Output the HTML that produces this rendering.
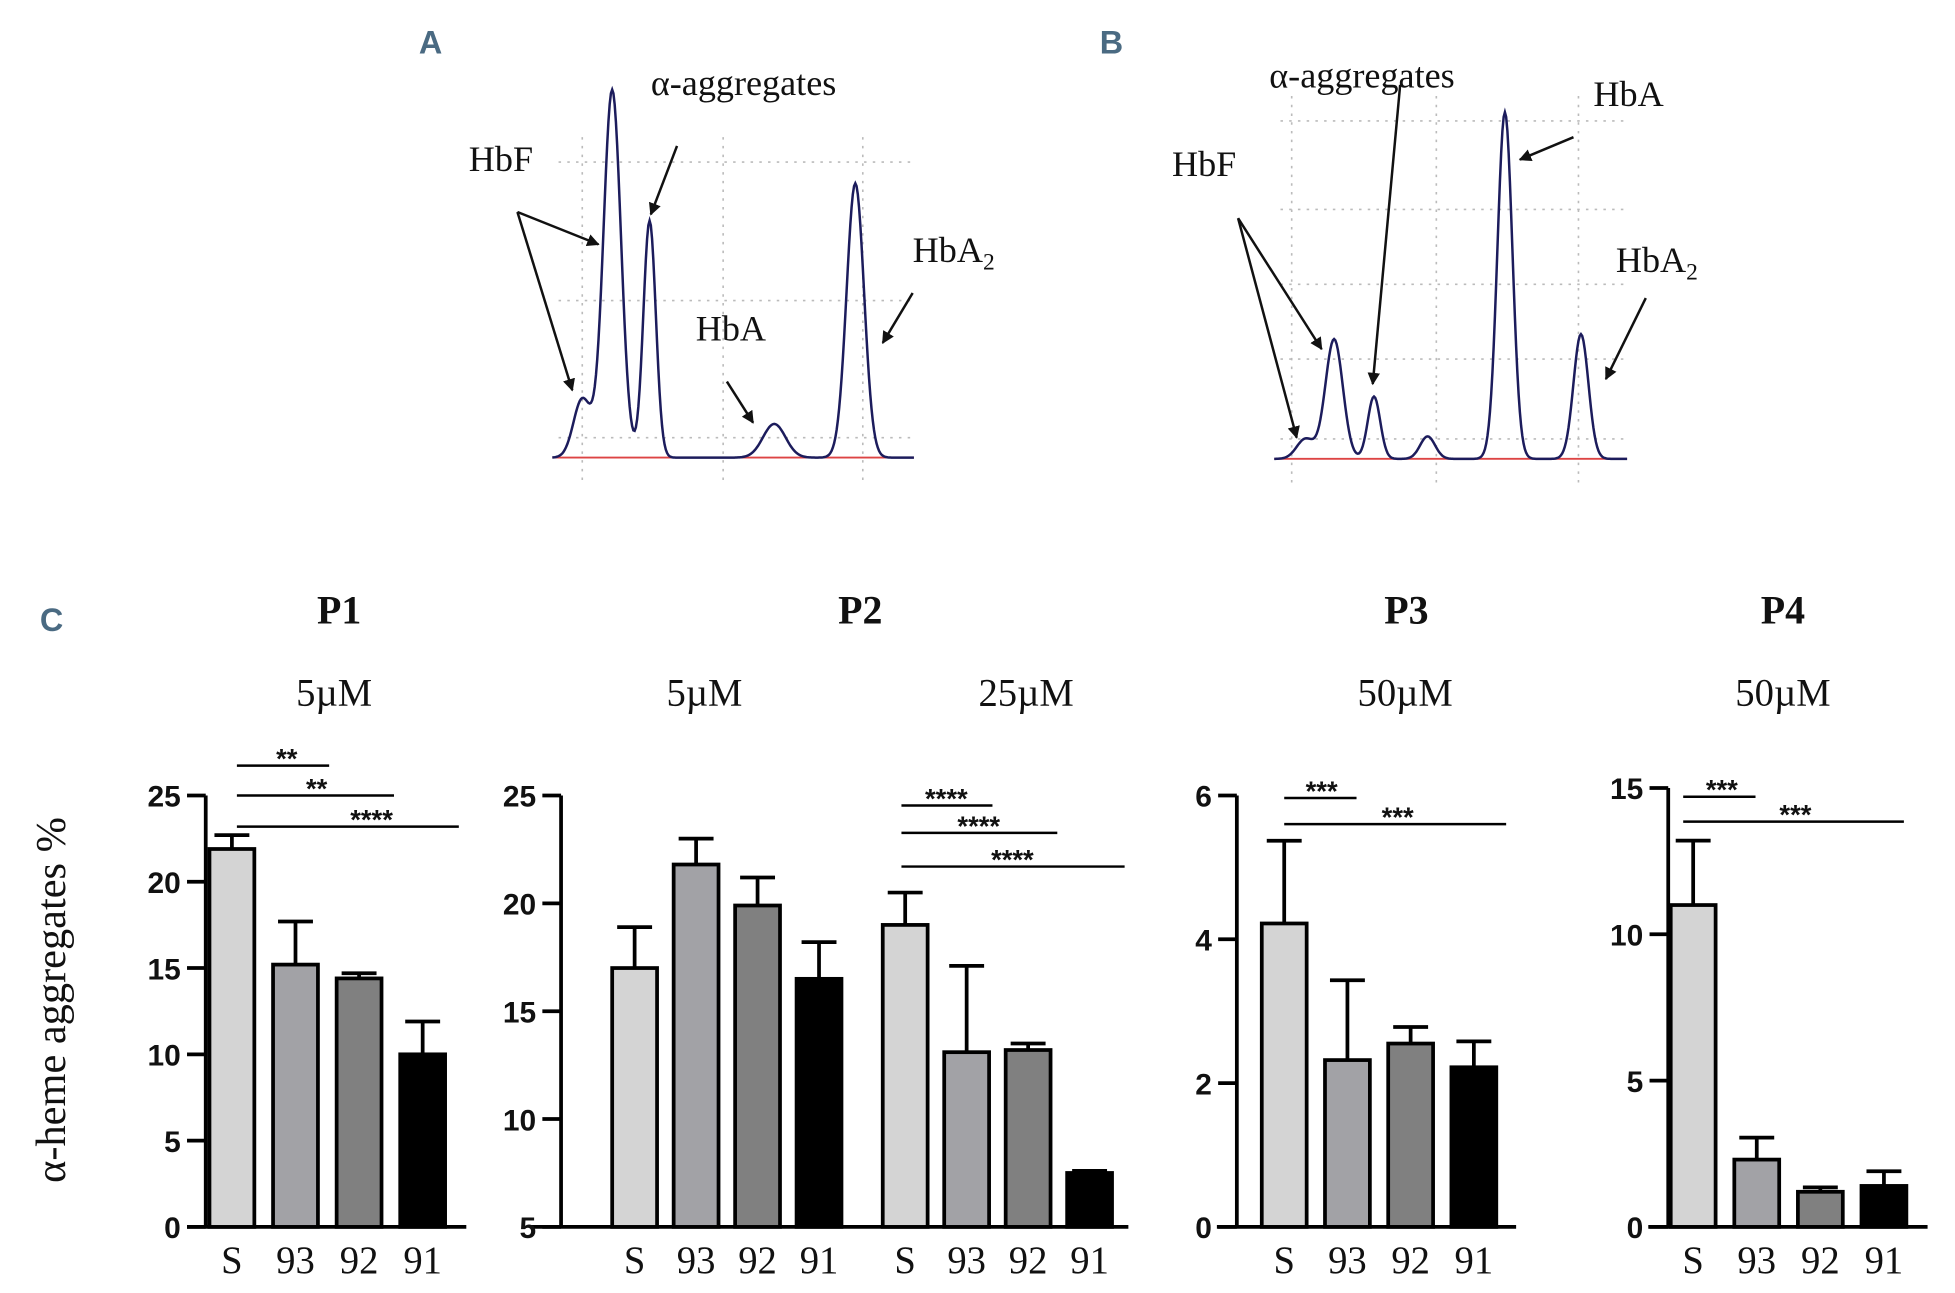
<!DOCTYPE html>
<html><head><meta charset="utf-8"><style>
html,body{margin:0;padding:0;background:#fff}
svg{display:block}
.tick{font-family:"Liberation Sans",sans-serif;font-weight:bold;font-size:24px;fill:#111}
.cat{font-family:"Liberation Serif",serif;font-size:31px;fill:#111}
.ser{font-family:"Liberation Serif",serif;fill:#111}
.let{font-family:"Liberation Sans",sans-serif;font-weight:bold;font-size:26px;fill:#4a6a82}
</style></head><body>
<svg id="fig" width="1955" height="1293" viewBox="0 0 1568 1037" xmlns="http://www.w3.org/2000/svg">
<defs><marker id="ar" markerWidth="10" markerHeight="10" refX="9" refY="5" orient="auto" markerUnits="userSpaceOnUse"><path d="M0,0 L10,5 L0,10 z" fill="#111"/></marker></defs>
<text class="let" x="336" y="43">A</text>
<text class="let" x="882" y="43">B</text>
<text class="let" x="32" y="506">C</text>
<g id="chromA"></g>
<g id="chromB"></g>
<g id="bars"></g>
<text class="ser" font-size="34" transform="translate(52,802) rotate(-90)" text-anchor="middle">α-heme aggregates %</text>
</svg>
<script>
// Chromatogram peaks (position x, peak height y, width)
const peaksAx=[467,491,521,621,686];
const peaksAy=[320,72,177,340,147];
const peaksAw=[7,7,5,9,7];
const peaksBx=[1047,1070,1102,1145,1207,1268];
const peaksBy=[352,272,318,350,90,268];
const peaksBw=[7,7,5,6,6,6];

// Bar chart data
const cats=["S","93","92","91"];
const p1Vals=[21.9,15.2,14.4,10.0];
const p1Err=[22.7,17.7,14.7,11.9];
const p2aVals=[17.0,21.8,19.9,16.5];
const p2aErr=[18.9,23.0,21.2,18.2];
const p2bVals=[19.0,13.1,13.2,7.5];
const p2bErr=[20.5,17.1,13.5,7.6];
const p3Vals=[4.22,2.32,2.55,2.22];
const p3Err=[5.37,3.43,2.78,2.58];
const p4Vals=[11.0,2.3,1.2,1.4];
const p4Err=[13.2,3.05,1.35,1.9];
const p1Ticks=[0,5,10,15,20,25];
const p2Ticks=[5,10,15,20,25];
const p3Ticks=[0,2,4,6];
const p4Ticks=[0,5,10,15];
const fills=["#d4d4d4","#a2a2a6","#808080","#000"];

const NS="http://www.w3.org/2000/svg";
function mk(parent,tag,attrs,txt){const e=document.createElementNS(NS,tag);for(const k in attrs)e.setAttribute(k,attrs[k]);if(txt!==undefined)e.textContent=txt;parent.appendChild(e);return e;}

function chrom(g,x0,x1,base,px,py,pw,gridX,gridY){
  gridX.forEach(x=>{const l=mk(g,'line',{x1:x,y1:gridY[0]-20,x2:x,y2:base+20,stroke:'#bbb','stroke-dasharray':'2,5','stroke-width':1.3});});
  gridY.forEach(y=>{const l=mk(g,'line',{x1:x0+5,y1:y,x2:x1,y2:y,stroke:'#bbb','stroke-dasharray':'2,5','stroke-width':1.3});});
  const b=mk(g,'line',{x1:x0,y1:base,x2:x1,y2:base,stroke:'#d44','stroke-width':1.5});
  
  let d='';
  for(let x=x0;x<=x1;x+=1){let y=0;for(let i=0;i<px.length;i++){const t=(x-px[i])/pw[i];y+=(base-py[i])*Math.exp(-t*t/2);}d+=(x===x0?'M':'L')+x+','+(base-y).toFixed(1);}
  const p=mk(g,'path',{d:d,fill:'none',stroke:'#1c1c5c','stroke-width':2});
  
}
const gA=document.getElementById('chromA');
chrom(gA,443,733,367,peaksAx,peaksAy,peaksAw,[467,580,692],[130,241,351]);
const gB=document.getElementById('chromB');
chrom(gB,1022,1305,368,peaksBx,peaksBy,peaksBw,[1036,1152,1266],[97,168,228,288,352]);

function lbl(g,x,y,t,size,name,sub){const e=mk(g,'text',{x:x,y:y,class:'ser','font-size':size},t);if(sub){const s=mk(e,'tspan',{'font-size':size*0.65,dy:6},sub);}return e;}
function arrow(g,x1,y1,x2,y2){const l=mk(g,'line',{x1:x1,y1:y1,x2:x2,y2:y2,stroke:'#111','stroke-width':2,'marker-end':'url(#ar)'});}
lbl(gA,376,137,'HbF',29,'label-hbf');
lbl(gA,522,76,'α-aggregates',29,'label-alpha-aggregates');
lbl(gA,558,273,'HbA',29,'label-hba');
lbl(gA,732,210,'HbA',29,'label-hba2','2');
arrow(gA,415,170,480,196);arrow(gA,415,170,459,313);arrow(gA,543,117,522,172);arrow(gA,583,306,604,339);arrow(gA,732,235,708,275);
lbl(gB,940,141,'HbF',29,'label-hbf');
lbl(gB,1018,70,'α-aggregates',29,'label-alpha-aggregates');
lbl(gB,1278,85,'HbA',29,'label-hba');
lbl(gB,1296,218,'HbA',29,'label-hba2','2');
arrow(gB,993,175,1060,280);arrow(gB,993,175,1040,351);arrow(gB,1123,68,1101,308);arrow(gB,1262,110,1219,128);arrow(gB,1320,239,1288,304);

const G=document.getElementById('bars');
function panel(o){
  const g=mk(G,'g',{});
  const y=v=>o.y0-(v-o.vmin)/(o.vmax-o.vmin)*(o.y0-o.y1);
  const ax=mk(g,'line',{x1:o.ax,y1:o.y1,x2:o.ax,y2:o.y0+1,stroke:'#000','stroke-width':3});
  const xa=mk(g,'line',{x1:o.xa0,y1:o.y0,x2:o.xa1,y2:o.y0,stroke:'#000','stroke-width':3});
  o.ticks.forEach(t=>{const l=mk(g,'line',{x1:o.ax-15,y1:y(t),x2:o.ax,y2:y(t),stroke:'#000','stroke-width':3});
    const tx=mk(g,'text',{x:o.ax-20,y:y(t)+9,class:'tick','text-anchor':'end'},t);});
  o.groups.forEach(gr=>{gr.vals.forEach((v,i)=>{const cx=gr.x0+i*o.step;
    const e=mk(g,'line',{x1:cx,y1:y(v),x2:cx,y2:y(gr.err[i]),stroke:'#000','stroke-width':3});
    const c=mk(g,'line',{x1:cx-14,y1:y(gr.err[i]),x2:cx+14,y2:y(gr.err[i]),stroke:'#000','stroke-width':3});
    const r=mk(g,'rect',{x:cx-18,y:y(v),width:36,height:o.y0-y(v),fill:fills[i],stroke:'#000','stroke-width':3});
    const t=mk(g,'text',{x:cx,y:1021,class:'cat','text-anchor':'middle'},cats[i]);});});
  o.sig.forEach(s=>{const l=mk(g,'line',{x1:s[0],y1:s[2],x2:s[1],y2:s[2],stroke:'#000','stroke-width':2});
    const t=mk(g,'text',{x:s[4],y:s[2]+2,'font-family':'Liberation Sans,sans-serif','font-size':22,'font-weight':'bold','text-anchor':'middle',fill:'#111'},s[3]);});
  const ti=mk(g,'text',{x:o.tx,y:500,class:'ser','font-size':32,'font-weight':'bold','text-anchor':'middle'},o.title);
  o.conc.forEach(c=>{const t=mk(g,'text',{x:c[0],y:566,class:'ser','font-size':31,'text-anchor':'middle'},c[1]);});
}
panel({name:'panel-p1',ax:165,y0:984,y1:638,vmin:0,vmax:25,xa0:150,xa1:374,step:51,ticks:p1Ticks,groups:[{x0:186,vals:p1Vals,err:p1Err}],
  sig:[[190,264,614,'**',230],[190,316,638,'**',254],[190,368,663,'****',298]],tx:272,title:'P1',conc:[[268,'5µM']]});
panel({name:'panel-p2',ax:450,y0:984,y1:638,vmin:5,vmax:25,xa0:426,xa1:905,step:49.3,ticks:p2Ticks,groups:[{x0:509,vals:p2aVals,err:p2aErr},{x0:726,vals:p2bVals,err:p2bErr}],
  sig:[[723,796,646,'****',759],[723,848,668,'****',785],[723,902,695,'****',812]],tx:690,title:'P2',conc:[[565,'5µM'],[823,'25µM']]});
panel({name:'panel-p3',ax:992,y0:984,y1:638,vmin:0,vmax:6,xa0:976,xa1:1216,step:50.7,ticks:p3Ticks,groups:[{x0:1030,vals:p3Vals,err:p3Err}],
  sig:[[1030,1088,640,'***',1060],[1030,1208,661,'***',1121]],tx:1128,title:'P3',conc:[[1127,'50µM']]});
panel({name:'panel-p4',ax:1338,y0:984,y1:632,vmin:0,vmax:15,xa0:1322,xa1:1546,step:51,ticks:p4Ticks,groups:[{x0:1358,vals:p4Vals,err:p4Err}],
  sig:[[1350,1408,639,'***',1381],[1350,1527,659,'***',1440]],tx:1430,title:'P4',conc:[[1430,'50µM']]});
</script>
</body></html>
